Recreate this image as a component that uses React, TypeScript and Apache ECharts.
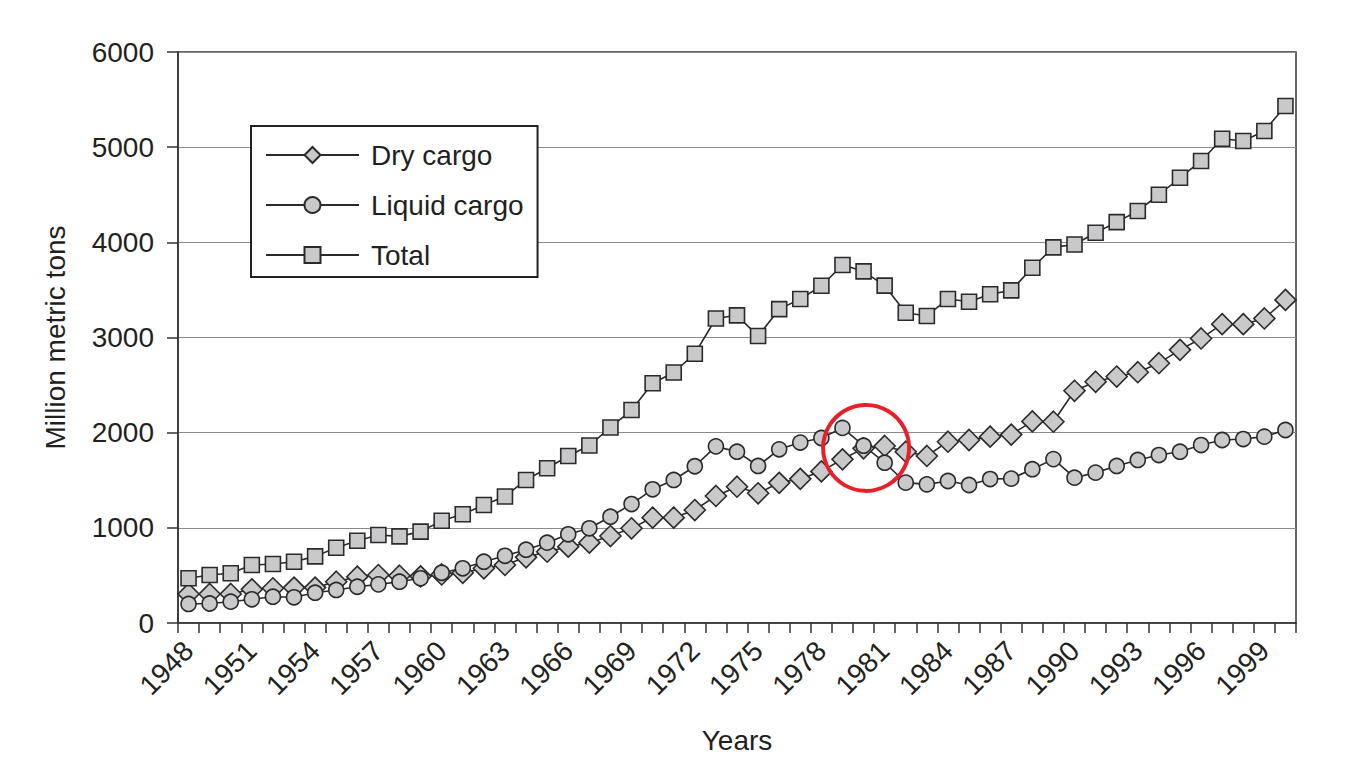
import React, { useEffect, useRef } from "react";
import * as echarts from "echarts";

const years: string[] = [];
for (let y = 1948; y <= 2000; y++) years.push(String(y));

const dryCargo = [
  305, 305, 305, 354, 365, 372, 372, 434, 487, 504,
  497, 490, 510, 528, 575, 610, 690, 749, 802, 844,
  914, 995, 1107, 1107, 1187, 1335, 1432, 1363, 1473, 1515,
  1593, 1720, 1835, 1860, 1800, 1755, 1905, 1923, 1958, 1980,
  2118, 2115, 2440, 2535, 2590, 2635, 2730, 2870, 2990, 3140,
  3140, 3200, 3395,
];

const liquidCargo = [
  200, 205, 224, 249, 276, 270, 318, 347, 381, 406,
  434, 470, 528, 575, 644, 706, 770, 844, 932, 995,
  1117, 1250, 1405, 1503, 1647, 1856, 1800, 1650, 1825, 1896,
  1944, 2050, 1863, 1684, 1475, 1457, 1492, 1450, 1513, 1517,
  1616, 1722, 1527, 1580, 1650, 1713, 1765, 1800, 1870, 1923,
  1933, 1958, 2028,
];

const total = [
  470, 504, 522, 609, 620, 644, 700, 791, 865, 925,
  910, 960, 1075, 1142, 1240, 1330, 1503, 1626, 1755, 1865,
  2055, 2238, 2519, 2632, 2830, 3200, 3233, 3015, 3298, 3405,
  3543, 3762, 3695, 3545, 3260, 3226, 3405, 3376, 3454, 3495,
  3733, 3947, 3977, 4100, 4212, 4330, 4500, 4678, 4855, 5088,
  5065, 5170, 5432,
];

const seriesNames = ["Dry cargo", "Liquid cargo", "Total"];
// red annotation ring, centred between 1980 and 1981 (fraction of a year step)
const annotation = { year: "1980", nextYear: "1981", frac: 0.12, value: 1840, radius: 43 };

const FONT = "'Liberation Sans', Arial, Helvetica, sans-serif";
const TEXT = "#231f20";
const INK = "#2a2a2a";
const FILL = "#c9c9cb";
const FS = 28;

export default function App() {
  const ref = useRef<HTMLDivElement>(null);
  useEffect(() => {
    if (!ref.current) return;
    const chart = echarts.init(ref.current, undefined, { renderer: "svg" });
    const mk = (name: string, data: number[], symbol: string, size: number) => ({
      name,
      type: "line",
      data,
      symbol,
      symbolSize: size,
      showAllSymbol: true,
      lineStyle: { color: INK, width: 1.6 },
      itemStyle: { color: FILL, borderColor: INK, borderWidth: 1.6 },
      emphasis: { disabled: true },
    });
    chart.setOption({
      animation: false,
      backgroundColor: "#ffffff",
      textStyle: { fontFamily: FONT },
      grid: {
        left: 178,
        right: 69,
        top: 52,
        bottom: 143,
        show: true,
        borderColor: "#333",
        borderWidth: 1.5,
        containLabel: false,
      },
      legend: {
        orient: "vertical",
        left: 251,
        top: 126,
        data: seriesNames,
        itemWidth: 93,
        itemHeight: 20,
        itemGap: 22,
        padding: [15, 14, 8, 14],
        backgroundColor: "#ffffff",
        borderColor: "#222",
        borderWidth: 2,
        borderRadius: 0,
        selectedMode: false,
        textStyle: { fontSize: FS, color: TEXT, fontFamily: FONT, padding: [0, 0, 0, 7] },
      },
      xAxis: {
        type: "category",
        data: years,
        boundaryGap: true,
        name: "Years",
        nameLocation: "middle",
        nameGap: 103,
        nameTextStyle: { fontSize: FS, color: TEXT, fontFamily: FONT },
        axisLine: { show: true, lineStyle: { color: "#333", width: 1.5 } },
        axisTick: { show: true, interval: 0, length: 10, lineStyle: { color: "#333", width: 1.5 } },
        axisLabel: {
          interval: 2,
          rotate: 45,
          margin: 23,
          fontSize: FS,
          color: TEXT,
          fontFamily: FONT,
        },
        splitLine: { show: false },
      },
      yAxis: {
        type: "value",
        min: 0,
        max: 6000,
        interval: 1000,
        name: "Million metric tons",
        nameLocation: "middle",
        nameGap: 109,
        nameRotate: 90,
        nameTextStyle: { fontSize: FS, color: TEXT, fontFamily: FONT },
        axisLine: { show: true, lineStyle: { color: "#333", width: 1.5 } },
        axisTick: { show: true, length: 11, lineStyle: { color: "#333", width: 1.5 } },
        axisLabel: {
          margin: 24,
          fontSize: FS,
          color: TEXT,
          fontFamily: FONT,
          formatter: (v: number) => String(v),
        },
        splitLine: { show: true, lineStyle: { color: "#8a8a8a", width: 1.2 } },
      },
      series: [
        mk(seriesNames[0], dryCargo, "diamond", 21),
        mk(seriesNames[1], liquidCargo, "circle", 15),
        mk(seriesNames[2], total, "rect", 15),
      ],
    });
    const a = chart.convertToPixel({ gridIndex: 0 }, [annotation.year, annotation.value]) as number[];
    const b = chart.convertToPixel({ gridIndex: 0 }, [annotation.nextYear, annotation.value]) as number[];
    const cx = a[0] + (b[0] - a[0]) * annotation.frac;
    chart.setOption({
      graphic: [
        {
          type: "circle",
          shape: { cx, cy: a[1], r: annotation.radius },
          style: { fill: "none", stroke: "#e8202a", lineWidth: 4 },
          z: 100,
        },
      ],
    });
    return () => chart.dispose();
  }, []);
  return (
    <div
      ref={ref}
      style={{ position: "fixed", left: 0, top: 0, width: 1365, height: 766, background: "#fff" }}
    />
  );
}
